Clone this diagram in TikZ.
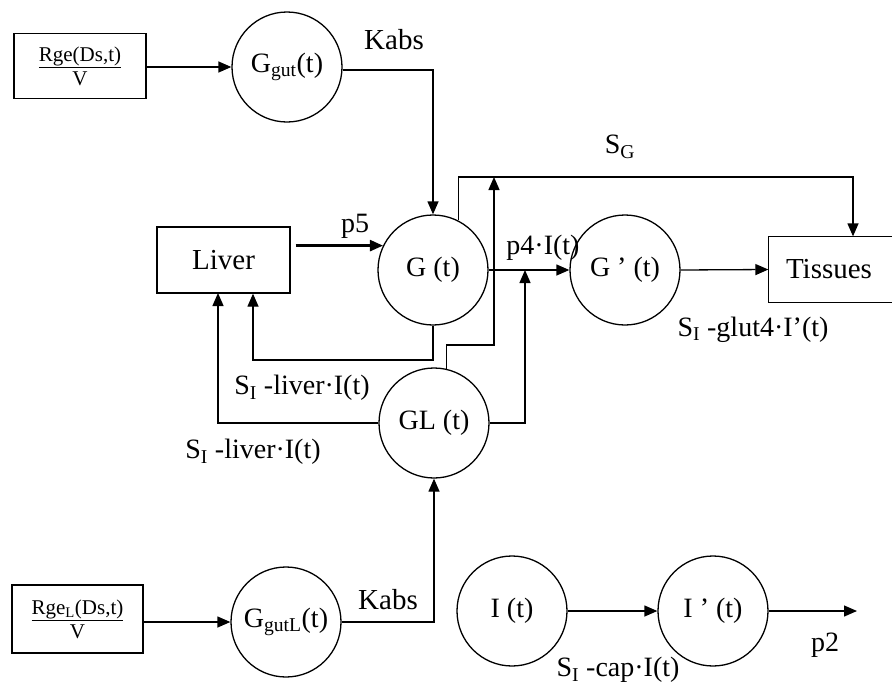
\documentclass[tikz,border=0pt]{standalone}
\usepackage{fontspec}
\setmainfont{Liberation Serif}
\usetikzlibrary{arrows.meta,calc}
\begin{document}
\begin{tikzpicture}[x=1pt,y=-1pt,
  every path/.style={line width=1.3pt},
  tip/.style={-{Triangle[length=13pt,width=11pt]}},
  circ/.style={circle,draw,line width=1.3pt,minimum size=110pt,inner sep=0pt,font=\fontsize{28}{30}\selectfont},
  boxn/.style={rectangle,draw,line width=1.3pt,inner sep=0pt,font=\fontsize{29}{32}\selectfont},
  lab/.style={font=\fontsize{28}{30}\selectfont,inner sep=0pt},
  frac/.style={rectangle,draw,line width=1.3pt,inner sep=0pt,align=center,font=\fontsize{21}{21}\selectfont}]
\useasboundingbox (0,0) rectangle (892,691);

% nodes
\node[frac,minimum width=132pt,minimum height=65pt] (rge) at (80,66) {\underline{Rge(Ds,t)}\\[3pt]V};
\node[circ] (ggut) at (287,67) {G\textsubscript{gut}(t)};
\node[boxn,minimum width=133pt,minimum height=66pt] (liver) at (223.5,260) {Liver};
\node[circ] (g) at (433,270) {G (t)};
\node[circ] (gp) at (625,270) {G ’ (t)};
\node[rectangle,inner sep=0pt,minimum width=124pt,minimum height=65pt,font=\fontsize{29}{32}\selectfont] (tis) at (831,269.5) {\hspace*{-4pt}Tissues};
\draw (tis.north east) -- (tis.north west) -- (tis.south west) -- (tis.south east);
\node[circ] (gl) at (434,423) {GL (t)};
\node[frac,minimum width=131pt,minimum height=68pt] (rgel) at (77.5,619) {\underline{Rge\textsubscript{L}(Ds,t)}\\[3pt]V};
\node[circ] (gutl) at (286,622) {G\textsubscript{gutL}(t)};
\node[circ] (i) at (512,611) {I (t)};
\node[circ] (ip) at (713,611) {I ’ (t)};

% coordinates
\coordinate (kt) at (433,70);
\coordinate (sgc) at (853,177);
\coordinate (glk) at (494,345);
\coordinate (p4c) at (525,270);
\coordinate (lb) at (253,360);
\coordinate (la) at (218,293);
\coordinate (p2e) at (857,611);

% connectors
\draw[tip] (rge.east |- ggut.west) -- (ggut.west);
\draw[tip] (ggut.east |- kt) -- (kt) -- (g.north);
\draw[tip,line width=2.4pt] ($(liver.east |- g.154)+(5,0)$) -- (g.154);
\draw[tip] (g.east) -- (gp.west);
\draw[tip] (gp.east) -- (tis.west);
\draw[tip] (g.63) |- (sgc) -- (sgc |- tis.north);
\draw[tip] (gl.77) |- (glk) -- (glk |- sgc);
\draw[tip] (gl.east) -| (p4c);
\draw[tip] (gl.west) -| (la);
\draw[tip] (g.south) |- (lb) -- (lb |- liver.south);
\draw[tip] (rgel.east |- gutl.west) -- (gutl.west);
\draw[tip] (gutl.east) -| (gl.south);
\draw[tip] (i.east) -- (ip.west);
\draw[tip] (ip.east) -- (p2e);

% labels
\node[lab,font=\fontsize{29}{32}\selectfont] (kabs1) at (394,40) {Kabs};
\node[lab,font=\fontsize{29}{32}\selectfont] (kabs2) at (388,600) {Kabs};
\node[lab] (p5) at (355,226) {p5};
\node[lab] (sg) at (620,147) {S\textsubscript{G}};
\node[lab] (p4) at (543,248) {p4·I(t)};
\node[lab] (glut) at (753,330) {S\textsubscript{I} -glut4·I’(t)};
\node[lab] (liv1) at (302,388) {S\textsubscript{I} -liver·I(t)};
\node[lab] (liv2) at (253,452) {S\textsubscript{I} -liver·I(t)};
\node[lab] (cap) at (618,670) {S\textsubscript{I} -cap·I(t)};
\node[lab] (p2) at (825,645) {p2};
\end{tikzpicture}
\end{document}
